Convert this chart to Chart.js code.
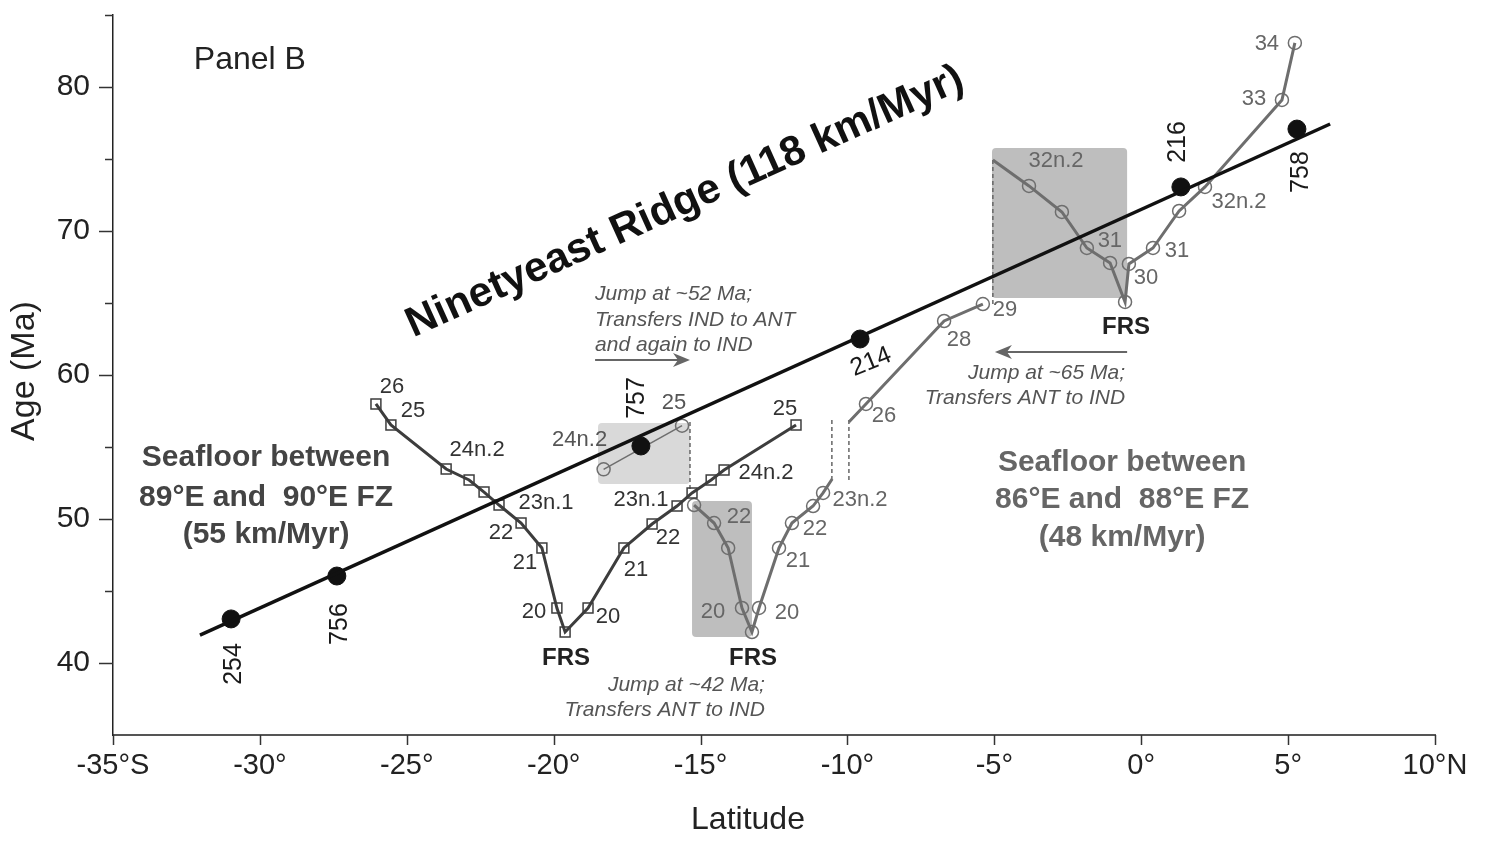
<!DOCTYPE html>
<html>
<head>
<meta charset="utf-8">
<title>Panel B - Ninetyeast Ridge</title>
<script src="https://cdn.jsdelivr.net/npm/chart.js@4.4.1/dist/chart.umd.min.js"></script>
<style>
  html, body { margin: 0; padding: 0; background: #fff; }
  #chart { display: block; }
</style>
</head>
<body>
<canvas id="chart" width="1487" height="844"></canvas>
<script>
// DSDP/ODP sites on the ridge
const siteNames = ["254", "756", "757", "214", "216", "758"];
const siteLat = [-30.98, -27.38, -17.03, -9.57, 1.35, 5.30];
const siteAge = [43.06, 46.04, 55.07, 62.5, 73.06, 77.08];

// ridge age progression (118 km/Myr)
const ridgeLat = [-32.04, 6.43];
const ridgeAge = [41.94, 77.43];

// seafloor between 89E and 90E FZ (squares)
const westChrons = ["26", "25", "24n.2", "", "", "23n.1", "22", "21", "20", "FRS",
  "20", "21", "22", "23n.1", "", "", "24n.2", "25"];
const westLat = [-26.05, -25.54, -23.66, -22.88, -22.37, -21.86, -21.11, -20.40, -19.89, -19.61,
  -18.83, -17.61, -16.65, -15.80, -15.29, -14.64, -14.20, -11.75];
const westAge = [57.99, 56.53, 53.47, 52.71, 51.87, 50.97, 49.72, 47.99, 43.82, 42.15,
  43.82, 47.99, 49.65, 50.90, 51.81, 52.71, 53.40, 56.53];

// seafloor between 86E and 88E FZ (circles); null = line vertex without marker
const jumpChrons = ["24n.2", "25"];
const jumpLat = [-18.30, -15.63];
const jumpAge = [53.45, 56.48];

const eastAChrons = ["", "22", "", "20", "FRS", "20", "21", "22", "", "23n.2", null];
const eastALat = [-15.22, -14.54, -14.06, -13.59, -13.25, -13.01, -12.33, -11.89, -11.17, -10.83, -10.52];
const eastAAge = [50.97, 49.72, 47.99, 43.82, 42.15, 43.82, 47.99, 49.72, 50.90, 51.81, 52.78];

const eastBChrons = [null, "26", "28", "29"];
const eastBLat = [-9.95, -9.37, -6.71, -5.39];
const eastBAge = [56.74, 57.99, 63.75, 64.93];

const eastCChrons = [null, "32n.2", "", "31", "", "FRS", "30", "31", "", "32n.2", "33", "34"];
const eastCLat = [-5.05, -3.82, -2.70, -1.85, -1.06, -0.55, -0.42, 0.40, 1.29, 2.17, 4.79, 5.23];
const eastCAge = [74.93, 73.13, 71.32, 68.82, 67.78, 65.07, 67.71, 68.82, 71.39, 73.06, 79.10, 83.06];

// dashed connectors at the ridge jumps
const dashLat = [-15.36, -10.53, -9.95, -5.05];
const dashTop = [56.74, 56.88, 56.88, 74.93];
const dashBottom = [51.87, 52.71, 52.71, 64.86];

// label offsets in pixels [dx, dy] (layout only)
const westOffsets = [[16, -17], [22, -14], [31, -19], null, null, [47, -2], [-20, 10], [-17, 15], [-23, 4], [1, 26],
  [20, 9], [12, 22], [16, 14], [-36, -6], null, null, [42, 3], [-11, -16]];
const jumpOffsets = [[-24, -29], [-8, -23]];
const eastAOffsets = [null, [25, -6], null, [-29, 4], [1, 26], [28, 5], [19, 13], [23, 6], null, [37, 7], null];
const eastBOffsets = [null, [18, 12], [15, 19], [22, 6]];
const eastCOffsets = [null, [27, -25], null, [23, -7], null, [1, 25], [17, 14], [24, 3], null, [34, 15], [-28, -1], [-28, 1]];
const siteOffsets = [[3, 45], [3, 48], [-4, -48], [11, 23], [-3, -45], [4, 43]];
const siteRotation = [-90, -90, -90, -22, -90, -90];

const SANS = "'Liberation Sans', Arial, Helvetica, sans-serif";
const SQUARE_GREY = "#3d3d3d";
const CIRCLE_GREY = "#6e6e6e";

const pts = (lats, ages) => lats.map((x, i) => ({ x: x, y: ages[i] }));

const chronSeries = (data, chrons, offsets, color, lineWidth, style, radius, labelColor) => ({
  data: data,
  showLine: true,
  borderColor: color,
  borderWidth: lineWidth,
  pointStyle: style,
  pointRadius: (ctx) => (chrons[ctx.dataIndex] === null ? 0 : radius),
  pointBorderColor: color,
  pointBackgroundColor: "rgba(0,0,0,0)",
  pointBorderWidth: 1.5,
  chrons: chrons,
  chronOffsets: offsets,
  chronColor: labelColor,
});

const drawText = (ctx, text, x, y, font, color, align, rot) => {
  ctx.save();
  ctx.translate(x, y);
  if (rot) ctx.rotate((rot * Math.PI) / 180);
  ctx.font = font;
  ctx.fillStyle = color;
  ctx.textAlign = align || "center";
  ctx.textBaseline = "middle";
  ctx.fillText(text, 0, 0);
  ctx.restore();
};

const boxes = [
  { lat: [-18.49, -15.36], age: [56.67, 52.43], color: "#d9d9d9" },
  { lat: [-15.29, -13.25], age: [51.25, 41.81], color: "#bebebe" },
  { lat: [-5.08, -0.48], age: [75.76, 65.35], color: "#bebebe" },
];

const arrows = [
  { from: [-18.59, 61.04], to: [-15.36, 61.04] },
  { from: [-0.48, 61.6], to: [-4.98, 61.6] },
];

const annotationPlugin = {
  id: "annotations",
  beforeDatasetsDraw(chart) {
    const { ctx, scales } = chart;
    boxes.forEach((b) => {
      const x1 = scales.x.getPixelForValue(b.lat[0]);
      const x2 = scales.x.getPixelForValue(b.lat[1]);
      const y1 = scales.y.getPixelForValue(b.age[0]);
      const y2 = scales.y.getPixelForValue(b.age[1]);
      ctx.save();
      ctx.fillStyle = b.color;
      ctx.beginPath();
      ctx.roundRect(x1, y1, x2 - x1, y2 - y1, 4);
      ctx.fill();
      ctx.restore();
    });
  },
  afterDatasetsDraw(chart) {
    const { ctx, scales } = chart;
    const X = (v) => scales.x.getPixelForValue(v);
    const Y = (v) => scales.y.getPixelForValue(v);

    // chron labels next to the markers
    chart.data.datasets.forEach((ds, di) => {
      if (!ds.chrons) return;
      const meta = chart.getDatasetMeta(di);
      ds.chrons.forEach((name, i) => {
        const off = ds.chronOffsets[i];
        if (!name || !off) return;
        const el = meta.data[i];
        const bold = name === "FRS";
        drawText(ctx, name, el.x + off[0], el.y + off[1],
          bold ? "bold 24px " + SANS : "22px " + SANS,
          bold ? "#222" : ds.chronColor, "center", 0);
      });
    });

    // site numbers
    const siteMeta = chart.getDatasetMeta(1);
    siteNames.forEach((name, i) => {
      const el = siteMeta.data[i];
      drawText(ctx, name, el.x + siteOffsets[i][0], el.y + siteOffsets[i][1],
        "25px " + SANS, "#1a1a1a", "center", siteRotation[i]);
    });

    // arrows
    arrows.forEach((a) => {
      const x1 = X(a.from[0]), y1 = Y(a.from[1]);
      const x2 = X(a.to[0]), y2 = Y(a.to[1]);
      const dir = Math.sign(x2 - x1);
      ctx.save();
      ctx.strokeStyle = "#666";
      ctx.fillStyle = "#666";
      ctx.lineWidth = 2;
      ctx.beginPath();
      ctx.moveTo(x1, y1);
      ctx.lineTo(x2 - dir * 10, y2);
      ctx.stroke();
      ctx.beginPath();
      ctx.moveTo(x2, y2);
      ctx.lineTo(x2 - dir * 17, y2 - 7);
      ctx.lineTo(x2 - dir * 12, y2);
      ctx.lineTo(x2 - dir * 17, y2 + 7);
      ctx.closePath();
      ctx.fill();
      ctx.restore();
    });

    // free text
    drawText(ctx, "Panel B", X(-30.34), Y(81.88), "32px " + SANS, "#222", "center", 0);
    drawText(ctx, "Ninetyeast Ridge (118 km/Myr)", X(-15.53), Y(72.01), "bold 42px " + SANS, "#111", "center", -24.3);

    const westNote = ["Seafloor between", "89\u00b0E and  90\u00b0E FZ", "(55 km/Myr)"];
    [54.24, 51.46, 48.89].forEach((age, i) =>
      drawText(ctx, westNote[i], X(-29.79), Y(age), "bold 30px " + SANS, "#444", "center", 0));
    const eastNote = ["Seafloor between", "86\u00b0E and  88\u00b0E FZ", "(48 km/Myr)"];
    [53.89, 51.32, 48.68].forEach((age, i) =>
      drawText(ctx, eastNote[i], X(-0.65), Y(age), "bold 30px " + SANS, "#666", "center", 0));

    const italic = "italic 21px " + SANS;
    const j52 = ["Jump at ~52 Ma;", "Transfers IND to ANT", "and again to IND"];
    [65.63, 63.82, 62.08].forEach((age, i) => drawText(ctx, j52[i], X(-18.59), Y(age), italic, "#555", "left", 0));
    const j65 = ["Jump at ~65 Ma;", "Transfers ANT to IND"];
    [60.14, 58.40].forEach((age, i) => drawText(ctx, j65[i], X(-0.55), Y(age), italic, "#555", "right", 0));
    const j42 = ["Jump at ~42 Ma;", "Transfers ANT to IND"];
    [38.47, 36.74].forEach((age, i) => drawText(ctx, j42[i], X(-12.81), Y(age), italic, "#555", "right", 0));
  },
  afterDraw(chart) {
    const { ctx, scales } = chart;
    const xs = scales.x, ys = scales.y;
    ctx.save();
    ctx.strokeStyle = "#333";
    ctx.lineWidth = 1.5;
    xs.ticks.forEach((t) => {
      const px = Math.round(xs.getPixelForValue(t.value)) + 0.5;
      ctx.beginPath();
      ctx.moveTo(px, xs.top);
      ctx.lineTo(px, xs.top + 10);
      ctx.stroke();
    });
    ys.ticks.forEach((t) => {
      if (t.value === 35) return;
      const py = Math.round(ys.getPixelForValue(t.value)) + 0.5;
      const len = t.value % 10 === 0 ? 14 : 8;
      ctx.beginPath();
      ctx.moveTo(ys.right - len, py);
      ctx.lineTo(ys.right, py);
      ctx.stroke();
    });
    ctx.restore();

    // axis titles
    drawText(ctx, "Latitude", 748, 820, "32px " + SANS, "#222", "center", 0);
    drawText(ctx, "Age (Ma)", 25, (ys.top + ys.bottom) / 2 - 4, "34px " + SANS, "#222", "center", -90);
  },
};

const datasets = [
  {
    label: "Ninetyeast Ridge",
    data: pts(ridgeLat, ridgeAge),
    showLine: true,
    borderColor: "#111",
    borderWidth: 3.5,
    pointRadius: 0,
  },
  {
    label: "Sites",
    data: pts(siteLat, siteAge),
    showLine: false,
    pointRadius: 9,
    pointBackgroundColor: "#111",
    pointBorderColor: "#111",
  },
  chronSeries(pts(westLat, westAge), westChrons, westOffsets, SQUARE_GREY, 3, "rect", 7, "#333"),
  chronSeries(pts(jumpLat, jumpAge), jumpChrons, jumpOffsets, CIRCLE_GREY, 1.5, "circle", 6.5, "#555"),
  chronSeries(pts(eastALat, eastAAge), eastAChrons, eastAOffsets, CIRCLE_GREY, 3, "circle", 6.5, "#666"),
  chronSeries(pts(eastBLat, eastBAge), eastBChrons, eastBOffsets, CIRCLE_GREY, 3, "circle", 6.5, "#666"),
  chronSeries(pts(eastCLat, eastCAge), eastCChrons, eastCOffsets, CIRCLE_GREY, 3, "circle", 6.5, "#666"),
];

dashLat.forEach((lat, i) => {
  datasets.push({
    label: "jump " + i,
    data: [{ x: lat, y: dashTop[i] }, { x: lat, y: dashBottom[i] }],
    showLine: true,
    borderColor: "#666",
    borderWidth: 1.5,
    borderDash: [4, 3],
    pointRadius: 0,
  });
});

new Chart(document.getElementById("chart"), {
  type: "scatter",
  data: { datasets: datasets },
  options: {
    responsive: false,
    animation: false,
    layout: { padding: { left: 0, right: 52, top: 15, bottom: 0 } },
    plugins: { legend: { display: false }, tooltip: { enabled: false } },
    scales: {
      x: {
        type: "linear",
        min: -35,
        max: 10,
        ticks: {
          stepSize: 5,
          padding: 14,
          color: "#222",
          font: { family: SANS, size: 29 },
          callback: (v) => (v === -35 ? "-35\u00b0S" : v === 10 ? "10\u00b0N" : v + "\u00b0"),
        },
        grid: { display: false, drawTicks: false },
        border: { color: "#555", width: 2 },
        afterFit: (s) => {
          s.height = 109;
          s.paddingLeft = 0;
          s.paddingRight = 0;
        },
      },
      y: {
        type: "linear",
        min: 35,
        max: 85,
        ticks: {
          stepSize: 5,
          padding: 23,
          color: "#222",
          font: { family: SANS, size: 30 },
          callback: (v) => (v % 10 === 0 ? String(v) : ""),
        },
        grid: { display: false, drawTicks: false },
        border: { color: "#222", width: 1.5 },
        afterFit: (s) => {
          s.width = 113;
          s.paddingTop = 0;
          s.paddingBottom = 0;
        },
      },
    },
  },
  plugins: [annotationPlugin],
});
</script>
</body>
</html>
